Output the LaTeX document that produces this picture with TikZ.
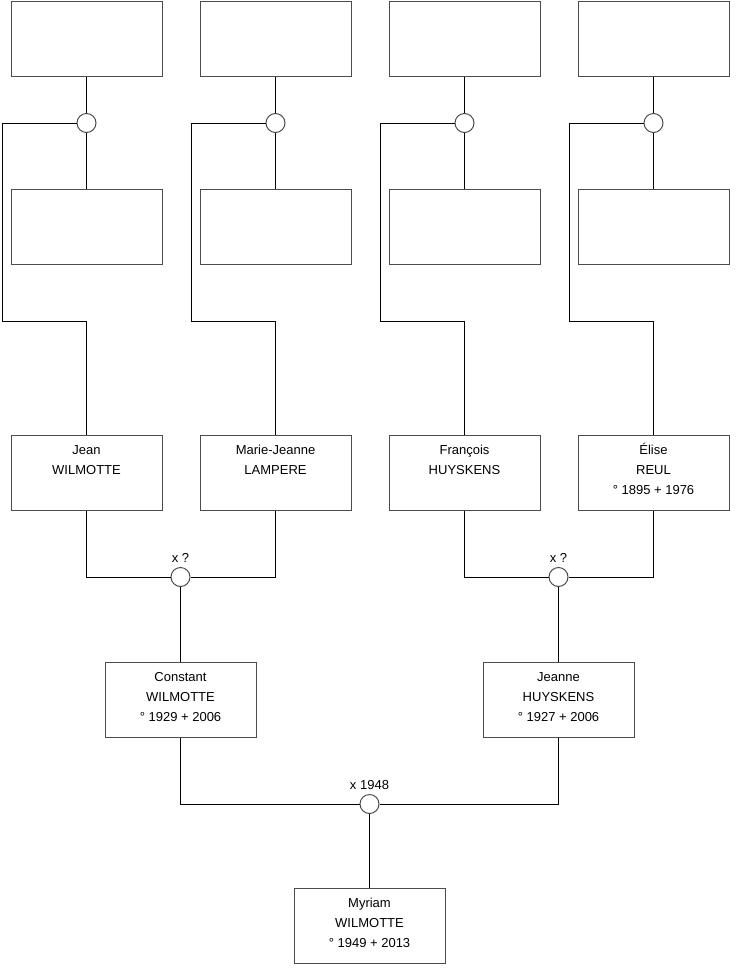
\documentclass[tikz,border=0pt]{standalone}
\usepackage{fontspec}
\setmainfont{Liberation Sans}
\begin{document}
\begin{tikzpicture}[x=1pt,y=-1pt,
  person/.style={draw=black!70, line width=1pt, fill=white, minimum width=151pt, minimum height=75pt, inner sep=0pt},
  txt/.style={anchor=base, align=center, font=\fontsize{13}{20}\selectfont, inner sep=0pt},
  union/.style={circle, draw=black!70, line width=1pt, fill=white, minimum size=19pt, inner sep=0pt},
  ulabel/.style={font=\fontsize{13}{14}\selectfont, inner sep=1pt, label distance=3pt},
  link/.style={line width=1pt, black}]
\useasboundingbox (0,0) rectangle (740,975);
% top row
\node[person] (a1) at (86.5,38.5) {};
\node[person] (a2) at (275.5,38.5) {};
\node[person] (a3) at (464.5,38.5) {};
\node[person] (a4) at (653.5,38.5) {};
% unions row 1
\node[union] (u1) at (86.5,123) {};
\node[union] (u2) at (275.5,123) {};
\node[union] (u3) at (464.5,123) {};
\node[union] (u4) at (653.5,123) {};
% second row
\node[person] (b1) at (86.5,227) {};
\node[person] (b2) at (275.5,227) {};
\node[person] (b3) at (464.5,227) {};
\node[person] (b4) at (653.5,227) {};
% third row
\node[person] (p1) at (86.5,472.5) {};
\node[person] (p2) at (275.5,472.5) {};
\node[person] (p3) at (464.5,472.5) {};
\node[person] (p4) at (653.5,472.5) {};
\node[txt] (tp1) at ([yshift=-39.5pt]p1.north) {Jean\\WILMOTTE};
\node[txt] (tp2) at ([yshift=-39.5pt]p2.north) {Marie-Jeanne\\LAMPERE};
\node[txt] (tp3) at ([yshift=-39.5pt]p3.north) {François\\HUYSKENS};
\node[txt] (tp4) at ([yshift=-59.5pt]p4.north) {Élise\\REUL\\° 1895 + 1976};
% unions row 2
\node[union, label={[ulabel]above:x ?}] (v1) at (180.5,577) {};
\node[union, label={[ulabel]above:x ?}] (v2) at (558.5,577) {};
% fourth row
\node[person] (c1) at (180.5,699.5) {};
\node[person] (c2) at (558.5,699.5) {};
\node[txt] (tc1) at ([yshift=-59.5pt]c1.north) {Constant\\WILMOTTE\\° 1929 + 2006};
\node[txt] (tc2) at ([yshift=-59.5pt]c2.north) {Jeanne\\HUYSKENS\\° 1927 + 2006};
% union bottom
\node[union, label={[ulabel]above:x 1948}] (w) at (369.5,804) {};
% bottom
\node[person] (d) at (369.5,926) {};
\node[txt] (td) at ([yshift=-59.5pt]d.north) {Myriam\\WILMOTTE\\° 1949 + 2013};
% connectors
\foreach \i in {1,2,3,4} {
  \draw[link] (a\i.south) -- (u\i.north);
  \draw[link] (u\i.south) -- (b\i.north);
}
\draw[link] (u1.west) -| (2,321) -| (p1.north);
\draw[link] (u2.west) -| (191,321) -| (p2.north);
\draw[link] (u3.west) -| (380,321) -| (p3.north);
\draw[link] (u4.west) -| (569,321) -| (p4.north);
\draw[link] (p1.south) |- (v1.west);
\draw[link] (p2.south) |- (v1.east);
\draw[link] (p3.south) |- (v2.west);
\draw[link] (p4.south) |- (v2.east);
\draw[link] (v1.south) -- (c1.north);
\draw[link] (v2.south) -- (c2.north);
\draw[link] (c1.south) |- (w.west);
\draw[link] (c2.south) |- (w.east);
\draw[link] (w.south) -- (d.north);
\end{tikzpicture}
\end{document}
